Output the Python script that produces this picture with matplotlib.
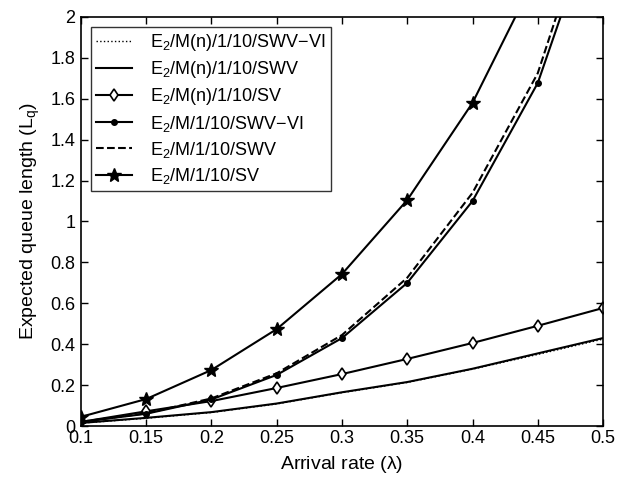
import matplotlib
matplotlib.use("Agg")
import matplotlib.pyplot as plt

plt.rcParams['font.family'] = ['Liberation Sans', 'DejaVu Sans']
plt.rcParams['mathtext.fontset'] = 'custom'
plt.rcParams['mathtext.rm'] = 'Liberation Sans'
plt.rcParams['mathtext.it'] = 'Liberation Sans'

arrival_rate = [0.1, 0.15, 0.2, 0.25, 0.3, 0.35, 0.4, 0.45, 0.5]

mn_swv_vi = [0.014, 0.038, 0.066, 0.108, 0.163, 0.213, 0.278, 0.350, 0.425]
mn_swv = [0.015, 0.040, 0.068, 0.110, 0.165, 0.215, 0.280, 0.355, 0.430]
mn_sv = [0.020, 0.072, 0.122, 0.186, 0.254, 0.328, 0.406, 0.490, 0.577]
m_swv_vi = [0.020, 0.060, 0.130, 0.250, 0.430, 0.700, 1.100, 1.677, 2.600]
m_swv = [0.021, 0.062, 0.135, 0.258, 0.445, 0.725, 1.140, 1.725, 2.700]
m_sv = [0.045, 0.132, 0.274, 0.474, 0.743, 1.105, 1.580, 2.220, 3.100]

labels = [
    r'E$_2$/M(n)/1/10/SWV$-$VI',
    r'E$_2$/M(n)/1/10/SWV',
    r'E$_2$/M(n)/1/10/SV',
    r'E$_2$/M/1/10/SWV$-$VI',
    r'E$_2$/M/1/10/SWV',
    r'E$_2$/M/1/10/SV',
]

fig = plt.figure(figsize=(6.2, 4.79), dpi=100)
ax = fig.add_axes([0.1306, 0.1106, 0.842, 0.854])

lw = 1.5
ax.plot(arrival_rate, mn_swv_vi, color='k', linestyle=':', lw=1.0, label=labels[0])
ax.plot(arrival_rate, mn_swv, color='k', linestyle='-', lw=lw, label=labels[1])
ax.plot(arrival_rate, mn_sv, color='k', linestyle='-', lw=lw, marker='d',
        markersize=6.5, markerfacecolor='white', markeredgecolor='k', markeredgewidth=1.2,
        label=labels[2])
ax.plot(arrival_rate, m_swv_vi, color='k', linestyle='-', lw=lw, marker='o',
        markersize=4, markerfacecolor='k', label=labels[3])
ax.plot(arrival_rate, m_swv, color='k', linestyle='--', lw=lw, label=labels[4])
ax.plot(arrival_rate, m_sv, color='k', linestyle='-', lw=lw, marker='*',
        markersize=10, markerfacecolor='k', label=labels[5])

ax.set_xlim(0.1, 0.5)
ax.set_ylim(0, 2)
ax.set_xticks(arrival_rate)
ax.set_xticklabels(['0.1', '0.15', '0.2', '0.25', '0.3', '0.35', '0.4', '0.45', '0.5'])
yt = [0, 0.2, 0.4, 0.6, 0.8, 1.0, 1.2, 1.4, 1.6, 1.8, 2.0]
ax.set_yticks(yt)
ax.set_yticklabels(['0', '0.2', '0.4', '0.6', '0.8', '1', '1.2', '1.4', '1.6', '1.8', '2'])
ax.tick_params(direction='in', top=True, right=True, labelsize=13, length=5, width=1)
ax.tick_params(axis='x', pad=3)
ax.tick_params(axis='y', pad=4)
for s in ax.spines.values():
    s.set_linewidth(1.2)

ax.set_xlabel(r'Arrival rate ($\lambda$)', fontsize=14, labelpad=5)
ax.set_ylabel(r'Expected queue length (L$_\mathregular{q}$)', fontsize=14, labelpad=6)

leg = ax.legend(loc='upper left', fontsize=13, frameon=True, fancybox=False,
                edgecolor='k', handlelength=2.0, borderpad=0.3, labelspacing=0.34,
                handletextpad=1.0, borderaxespad=0.0,
                bbox_to_anchor=(0.019, 0.976))
leg.get_frame().set_linewidth(1.0)

fig.savefig('out.png', dpi=100)
